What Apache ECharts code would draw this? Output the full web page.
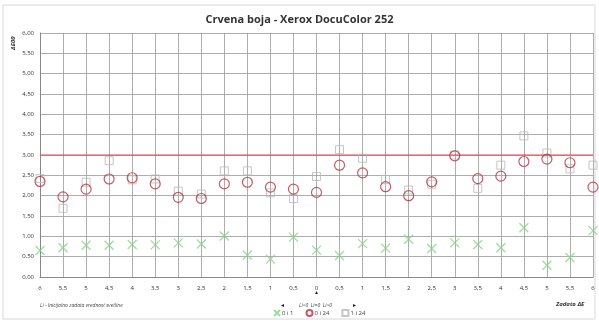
<!DOCTYPE html>
<html>
<head>
<meta charset="utf-8">
<script src="https://cdn.jsdelivr.net/npm/echarts@6/dist/echarts.min.js"></script>
<style>
  html, body { margin: 0; padding: 0; background: #fff; }
  #chart { width: 599px; height: 322px; }
</style>
</head>
<body>
<div id="chart"></div>
<script>
// x categories (zadato dE, left side goes 6 -> 0, right side 0 -> 6)
const categories = ['6', '5,5', '5', '4,5', '4', '3,5', '3', '2,5', '2', '1,5', '1', '0,5', '0',
  '0,5', '1', '1,5', '2', '2,5', '3', '3,5', '4', '4,5', '5', '5,5', '6']

// 0 i 1 (green crosses)
const s0i1 = [0.65, 0.72, 0.78, 0.78, 0.80, 0.79, 0.84, 0.81, 1.01, 0.54, 0.44, 0.98, 0.66,
  0.53, 0.82, 0.71, 0.93, 0.70, 0.84, 0.80, 0.72, 1.21, 0.29, 0.48, 1.14]
// 0 i 24 (red circles)
const s0i24 = [2.35, 1.97, 2.16, 2.41, 2.44, 2.29, 1.96, 1.93, 2.29, 2.33, 2.21, 2.16, 2.08,
  2.75, 2.56, 2.22, 2.00, 2.34, 2.98, 2.42, 2.48, 2.84, 2.90, 2.81, 2.21]
// 1 i 24 (grey squares)
const s1i24 = [2.42, 1.69, 2.33, 2.86, 2.39, 2.41, 2.11, 2.04, 2.61, 2.61, 2.07, 1.93, 2.47,
  3.13, 2.92, 2.40, 2.14, 2.28, 3.00, 2.18, 2.75, 3.47, 3.05, 2.66, 2.75]

// tolerance limit (red line)
const limit = 3.0
const limitLine = categories.map(() => limit)

const crossPath = 'path://M0,0L10,10M10,0L0,10'
const font = 'Open Sans'

let chart = echarts.init(document.getElementById('chart'))

let option = {
  animation: false,
  textStyle: { fontFamily: font },
  title: {
    text: 'Crvena boja - Xerox DocuColor 252',
    left: 'center',
    top: 9,
    textStyle: { fontSize: 11, fontWeight: 'bold', color: '#333', fontFamily: font }
  },
  grid: { left: 40, right: 6, top: 33, bottom: 45 },
  xAxis: {
    type: 'category',
    data: categories,
    boundaryGap: false,
    axisLine: { lineStyle: { color: '#888' } },
    axisTick: { show: false },
    axisLabel: { fontSize: 6, color: '#333', margin: 8 },
    splitLine: { show: true, lineStyle: { color: '#999', width: 0.8 } }
  },
  yAxis: {
    type: 'value',
    min: 0,
    max: 6,
    interval: 0.5,
    axisLine: { show: true, lineStyle: { color: '#888' } },
    axisTick: { show: false },
    axisLabel: {
      fontSize: 6,
      color: '#333',
      margin: 6,
      formatter: v => v.toFixed(2).replace('.', ',')
    },
    splitLine: { lineStyle: { color: '#999', width: 0.8 } }
  },
  legend: {
    bottom: 0,
    left: 268,
    itemGap: 12,
    itemWidth: 6,
    itemHeight: 6,
    textStyle: { fontSize: 6, color: '#444', padding: [0, 0, 0, -3] },
    data: ['0 i 1', '0 i 24', '1 i 24']
  },
  series: [
    {
      name: 'granica',
      type: 'line',
      data: limitLine,
      symbol: 'none',
      silent: true,
      z: 1,
      lineStyle: { color: '#e8404b', width: 1.2 }
    },
    {
      name: '0 i 1',
      type: 'scatter',
      data: s0i1,
      symbol: crossPath,
      symbolSize: 9,
      z: 3,
      itemStyle: { color: 'rgba(0,0,0,0)', borderColor: '#86d586', borderWidth: 1.3 }
    },
    {
      name: '0 i 24',
      type: 'scatter',
      data: s0i24,
      symbol: 'circle',
      symbolSize: 10,
      z: 4,
      itemStyle: { color: 'rgba(0,0,0,0)', borderColor: '#b5333f', borderWidth: 1.2 }
    },
    {
      name: '1 i 24',
      type: 'scatter',
      data: s1i24,
      symbol: 'rect',
      symbolSize: 8,
      z: 2,
      itemStyle: { color: 'rgba(0,0,0,0)', borderColor: '#b8b8b8', borderWidth: 1 }
    }
  ],
  graphic: [
    {
      type: 'rect',
      shape: { x: 3, y: 5, width: 592, height: 314 },
      style: { fill: 'none', stroke: '#d8d8d8', lineWidth: 1 },
      silent: true
    },
    {
      type: 'text',
      x: 10, y: 50,
      rotation: Math.PI / 2,
      style: { text: 'ΔE00', fontSize: 6, fontWeight: 'bold', fontStyle: 'italic', fill: '#333', fontFamily: font }
    },
    {
      type: 'text',
      x: 40, y: 303,
      style: { text: 'Li - Inicijalno zadata vrednost svetline', fontSize: 5, fontStyle: 'italic', fill: '#444', fontFamily: font }
    },
    {
      type: 'text',
      x: 314, y: 290,
      style: { text: '▲', fontSize: 5, fill: '#222' }
    },
    {
      type: 'text',
      x: 280, y: 303,
      style: { text: '◄', fontSize: 5, fill: '#222' }
    },
    {
      type: 'text',
      x: 299, y: 303,
      style: { text: 'Li<0  Li=0  Li>0', fontSize: 5, fontStyle: 'italic', fill: '#444', fontFamily: font }
    },
    {
      type: 'text',
      x: 352, y: 303,
      style: { text: '►', fontSize: 5, fill: '#222' }
    },
    {
      type: 'text',
      x: 556, y: 301,
      style: { text: 'Zadato ΔE', fontSize: 6, fontWeight: 'bold', fontStyle: 'italic', fill: '#333', fontFamily: font }
    }
  ]
}

chart.setOption(option)
</script>
</body>
</html>
